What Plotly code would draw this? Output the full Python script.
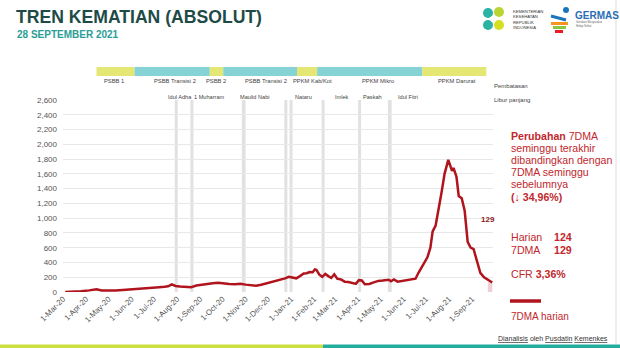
import plotly.graph_objects as go

# ---- data -------------------------------------------------------------
dates = [
    "2020-03-04", "2020-03-15", "2020-03-25", "2020-04-05", "2020-04-15", "2020-04-22",
    "2020-04-30", "2020-05-10", "2020-05-20", "2020-05-30", "2020-06-08", "2020-06-18",
    "2020-06-28", "2020-07-08", "2020-07-15", "2020-07-20", "2020-07-25", "2020-07-30",
    "2020-08-05", "2020-08-12", "2020-08-20", "2020-08-27", "2020-09-03", "2020-09-10",
    "2020-09-18", "2020-09-25", "2020-10-02", "2020-10-10", "2020-10-18", "2020-10-25",
    "2020-11-01", "2020-11-08", "2020-11-15", "2020-11-22", "2020-11-29", "2020-12-06",
    "2020-12-12", "2020-12-18", "2020-12-24", "2020-12-29", "2021-01-03", "2021-01-08",
    "2021-01-13", "2021-01-18", "2021-01-22", "2021-01-26", "2021-01-30", "2021-02-02",
    "2021-02-04", "2021-02-08", "2021-02-12", "2021-02-16", "2021-02-20", "2021-02-24",
    "2021-02-28", "2021-03-04", "2021-03-09", "2021-03-14", "2021-03-19", "2021-03-24",
    "2021-03-29", "2021-04-02", "2021-04-06", "2021-04-10", "2021-04-16", "2021-04-22",
    "2021-04-28", "2021-05-04", "2021-05-08", "2021-05-12", "2021-05-15", "2021-05-19",
    "2021-05-24", "2021-05-30", "2021-06-06", "2021-06-12", "2021-06-17", "2021-06-21",
    "2021-06-25", "2021-06-29", "2021-07-03", "2021-07-07", "2021-07-10", "2021-07-14",
    "2021-07-18", "2021-07-22", "2021-07-26", "2021-07-31", "2021-08-03", "2021-08-05",
    "2021-08-07", "2021-08-11", "2021-08-14", "2021-08-18", "2021-08-22", "2021-08-26",
    "2021-08-30", "2021-09-03", "2021-09-08", "2021-09-12", "2021-09-17", "2021-09-22",
    "2021-09-28",
]
deaths_7dma = [
    1, 3, 10, 22, 36, 22,
    20, 22, 28, 34, 38, 46,
    56, 66, 72, 78, 104, 82,
    74, 68, 66, 88, 100, 110,
    120, 125, 115, 108, 104, 112,
    100, 88, 84, 98, 115, 135,
    150, 160, 185, 205, 200, 185,
    215, 250, 255, 270, 268, 305,
    300, 235, 205, 245, 215, 190,
    240, 180, 170, 140, 135, 120,
    110, 160, 155, 105, 108, 130,
    150, 155, 160, 165, 145, 170,
    140, 150, 165, 175, 180, 260,
    330, 390, 470, 600, 820, 900,
    1100, 1350, 1600, 1790, 1700, 1640,
    1680, 1560, 1300, 1270, 1100, 680,
    600, 580, 400, 260, 200, 165,
    129,
]

last_week = ["2021-09-22", "2021-09-28"]

phase_names = ["PSBB 1", "PSBB Transisi 2", "PSBB 2", "PSBB Transisi 2",
               "PPKM Kab/Kot", "PPKM Mikro", "PPKM Darurat"]
phase_starts = ["2020-04-15", "2020-06-05", "2020-09-14", "2020-10-02",
                "2021-01-09", "2021-02-05", "2021-06-26"]
phase_ends = ["2020-06-05", "2020-09-14", "2020-10-02", "2021-01-09",
              "2021-02-05", "2021-06-26", "2021-09-20"]

holiday_names = ["Idul Adha", "1 Muharram", "Maulid Nabi", "Nataru", "Imlek",
                 "Paskah", "Idul Fitri"]
holiday_starts = ["2020-07-29", "2020-08-19", "2020-10-27", "2020-12-23", "2020-12-30",
                  "2021-02-11", "2021-04-01", "2021-05-11"]
holiday_ends = ["2020-08-02", "2020-08-23", "2020-11-01", "2020-12-27", "2021-01-03",
                "2021-02-15", "2021-04-05", "2021-05-16"]

daily_deaths = 124
last_7dma = 129
pct_change = "34,96%"
cfr = "3,36%"

# ---- layout geometry ----------------------------------------------------
W, H = 620, 348
L, R, T, B = 63, 127, 100, 56
PW = W - L - R
PH = H - T - B


def px(x):
    return (x - L) / PW


def py(y):
    return (H - B - y) / PH


RED = "#b0141c"
TXT_RED = "#c1272d"
YELLOW = "#e4e774"
TEAL = "#86d3d6"
FONT = "Liberation Sans, Arial, sans-serif"

fig = go.Figure()
fig.add_trace(go.Scatter(
    x=dates, y=deaths_7dma, mode="lines",
    line=dict(color=RED, width=2.5),
    hoverinfo="x+y", showlegend=False,
))

shapes = []
annotations = []

# holiday bands
for s, e in zip(holiday_starts, holiday_ends):
    shapes.append(dict(type="rect", xref="x", yref="paper", x0=s, x1=e, y0=0, y1=1,
                       fillcolor="rgba(205,205,205,0.6)", line=dict(width=0),
                       layer="below"))

# last week highlight
shapes.append(dict(type="rect", xref="x", yref="y", x0=last_week[0], x1=last_week[1],
                   y0=0, y1=last_7dma, fillcolor="rgba(225,175,185,0.6)",
                   line=dict(width=0), layer="below"))

# restriction phase strip
for i, (name, s, e) in enumerate(zip(phase_names, phase_starts, phase_ends)):
    shapes.append(dict(type="rect", xref="x", yref="paper", x0=s, x1=e,
                       y0=py(76), y1=py(67), fillcolor=YELLOW if i % 2 == 0 else TEAL,
                       line=dict(width=0)))
phase_label_px = [114, 175, 216, 266, 312, 378, 457]
for name, lx in zip(phase_names, phase_label_px):
    annotations.append(dict(x=px(lx), y=py(81), xref="paper", yref="paper", text=name,
                            showarrow=False, font=dict(size=5.8, color="#444"),
                            xanchor="center", yanchor="middle"))

holiday_label_px = [180, 209, 255, 303, 342, 372, 408]
for name, lx in zip(holiday_names, holiday_label_px):
    annotations.append(dict(x=px(lx), y=py(97), xref="paper", yref="paper", text=name,
                            showarrow=False, font=dict(size=5.6, color="#444"),
                            xanchor="center", yanchor="middle"))

annotations.append(dict(x=px(530), y=py(81), xref="paper", yref="paper", text="Pembatasan",
                        showarrow=False, font=dict(size=6, color="#444")))
annotations.append(dict(x=px(532), y=py(95), xref="paper", yref="paper", text="Libur panjang",
                        showarrow=False, font=dict(size=6, color="#444")))

# title block
annotations.append(dict(x=px(14), y=py(17), xref="paper", yref="paper",
                        text="<b>TREN KEMATIAN (ABSOLUT)</b>", showarrow=False,
                        xanchor="left", yanchor="middle",
                        font=dict(size=17.6, color="#1f4b47")))
annotations.append(dict(x=px(15), y=py(34), xref="paper", yref="paper",
                        text="<b>28 SEPTEMBER 2021</b>", showarrow=False,
                        xanchor="left", yanchor="middle",
                        font=dict(size=10, color="#2a9d96")))

# logos (simplified)
for cx, cy, r, col in [(488, 13, 5, "#2bb3a3"), (488, 25, 5, "#2bb3a3"),
                       (499, 12, 5, "#b9d532"), (499, 25, 5, "#d7df23"),
                       (493, 19, 3, "#ffffff")]:
    shapes.append(dict(type="circle", xref="paper", yref="paper",
                       x0=px(cx - r), x1=px(cx + r), y0=py(cy + r), y1=py(cy - r),
                       fillcolor=col, line=dict(width=0)))
annotations.append(dict(x=px(511), y=py(19), xref="paper", yref="paper",
                        text="KEMENTERIAN<br>KESEHATAN<br>REPUBLIK<br>INDONESIA",
                        showarrow=False, xanchor="left", yanchor="middle", align="left",
                        font=dict(size=4.2, color="#333")))
for x0, y0, x1, y1, col in [(551, 22, 568, 25, "#f7941d"), (553, 26, 566, 29, "#8dc63f"),
                            (555, 30, 563, 33, "#ed1c24")]:
    shapes.append(dict(type="rect", xref="paper", yref="paper", x0=px(x0), x1=px(x1),
                       y0=py(y1), y1=py(y0), fillcolor=col, line=dict(width=0)))
shapes.append(dict(type="circle", xref="paper", yref="paper", x0=px(563), x1=px(569),
                   y0=py(13), y1=py(7), fillcolor="#1b75bc", line=dict(width=0)))
shapes.append(dict(type="line", xref="paper", yref="paper", x0=px(551), x1=px(566),
                   y0=py(16), y1=py(20), line=dict(color="#1b75bc", width=3)))
annotations.append(dict(x=px(573), y=py(15), xref="paper", yref="paper", text="<b>GERMAS</b>",
                        showarrow=False, xanchor="left", yanchor="middle",
                        font=dict(size=10, color="#2a6db5")))
annotations.append(dict(x=px(574), y=py(24), xref="paper", yref="paper",
                        text="Gerakan Masyarakat<br>Hidup Sehat", showarrow=False,
                        xanchor="left", yanchor="middle", align="left",
                        font=dict(size=2.8, color="#666")))

# value label at the end of the line
annotations.append(dict(x=px(497), y=py(219), xref="paper", yref="paper",
                        text=f"<b>{last_7dma}</b>", showarrow=False,
                        font=dict(size=8, color="#8b1a1a")))

# summary text block
summary_lines = [
    (136, "<b>Perubahan</b> 7DMA"),
    (148, "seminggu terakhir"),
    (160, "dibandingkan dengan"),
    (172, "7DMA seminggu"),
    (184, "sebelumnya"),
    (197, f"<b>(↓ {pct_change})</b>"),
    (274, f"CFR <b>{cfr}</b>"),
]
for yy, txt in summary_lines:
    annotations.append(dict(x=px(509), y=py(yy), xref="paper", yref="paper", text=txt,
                            showarrow=False, xanchor="left", yanchor="middle",
                            font=dict(size=10.6, color=TXT_RED)))
for yy, lab, val in [(237, "Harian", daily_deaths), (250, "7DMA", last_7dma)]:
    annotations.append(dict(x=px(509), y=py(yy), xref="paper", yref="paper", text=lab,
                            showarrow=False, xanchor="left", yanchor="middle",
                            font=dict(size=10.6, color=TXT_RED)))
    annotations.append(dict(x=px(552), y=py(yy), xref="paper", yref="paper",
                            text=f"<b>{val}</b>", showarrow=False, xanchor="left",
                            yanchor="middle", font=dict(size=10.6, color=TXT_RED)))

# legend
shapes.append(dict(type="line", xref="paper", yref="paper", x0=px(510), x1=px(541),
                   y0=py(301), y1=py(301), line=dict(color=RED, width=3.5)))
annotations.append(dict(x=px(509), y=py(316), xref="paper", yref="paper", text="7DMA harian",
                        showarrow=False, xanchor="left", yanchor="middle",
                        font=dict(size=10, color=TXT_RED)))

# footer
annotations.append(dict(x=px(610), y=py(338), xref="paper", yref="paper",
                        text="<u>Dianalisis</u> oleh <u>Pusdatin</u> <u>Kemenkes</u>",
                        showarrow=False, xanchor="right", yanchor="middle",
                        font=dict(size=7, color="#333")))
shapes.append(dict(type="rect", xref="paper", yref="paper", x0=px(0), x1=px(323),
                   y0=py(348), y1=py(344.5), fillcolor="#cbdf3f", line=dict(width=0)))
shapes.append(dict(type="rect", xref="paper", yref="paper", x0=px(323), x1=px(620),
                   y0=py(348), y1=py(344.5), fillcolor="#22ad9f", line=dict(width=0)))
shapes.append(dict(type="line", xref="paper", yref="paper", x0=px(616), x1=px(616),
                   y0=py(344), y1=py(0), line=dict(color="#dddddd", width=1)))

fig.update_layout(
    width=W, height=H,
    margin=dict(l=L, r=R, t=T, b=B, pad=0),
    paper_bgcolor="white", plot_bgcolor="white",
    font=dict(family=FONT, color="#444"),
    shapes=shapes, annotations=annotations,
    xaxis=dict(
        type="date", range=["2020-03-01", "2021-09-29"],
        tickmode="linear", tick0="2020-03-01", dtick="M1",
        tickformat="%-d-%b-%y", tickangle=-45,
        tickfont=dict(size=7.8, color="#555"),
        showgrid=False, zeroline=False, showline=False, ticks="",
    ),
    yaxis=dict(
        range=[0, 2600], dtick=200, tickformat=",",
        tickfont=dict(size=8, color="#555"),
        showgrid=True, gridcolor="#e8e8e8", gridwidth=1,
        zeroline=False, showline=False, ticks="", ticklabelstandoff=5,
    ),
    showlegend=False,
)

fig.write_html("out.html")
